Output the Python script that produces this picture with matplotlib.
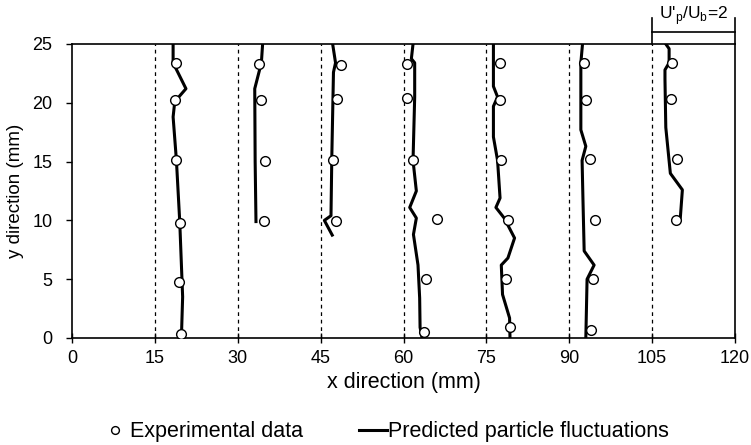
import matplotlib
matplotlib.use("Agg")
import matplotlib.pyplot as plt

plt.rcParams['font.family'] = ['Liberation Sans', 'DejaVu Sans']

# Measuring stations (x origin of each profile, mm)
stations = [15, 30, 45, 60, 75, 90, 105]
# Scale: 15 mm on the x axis corresponds to U'p/Ub = 2
mm_per_unit = 7.5

# Experimental data: y positions (mm) and U'p/Ub values
exp_y = {
    15: [23.4, 20.2, 15.1, 9.8, 4.8, 0.3],
    30: [23.3, 20.2, 15.05, 9.95],
    45: [23.2, 20.3, 15.1, 9.97],
    60: [23.3, 20.4, 15.1, 10.1, 5.05, 0.5],
    75: [23.4, 20.2, 15.1, 10.0, 5.05, 0.9],
    90: [23.4, 20.2, 15.2, 10.0, 5.0, 0.7],
    105: [23.4, 20.3, 15.2, 10.0],
}
exp_u = {
    15: [0.51, 0.49, 0.52, 0.60, 0.59, 0.64],
    30: [0.52, 0.57, 0.65, 0.64],
    45: [0.48, 0.39, 0.31, 0.36],
    60: [0.08, 0.08, 0.24, 0.81, 0.55, 0.49],
    75: [0.33, 0.33, 0.36, 0.52, 0.48, 0.56],
    90: [0.36, 0.41, 0.51, 0.63, 0.57, 0.52],
    105: [0.47, 0.45, 0.61, 0.57],
}

# Predicted particle fluctuations: y positions (mm) and U'p/Ub values
pred_y = {
    15: [25.0, 23.4, 21.2, 20.1, 18.8, 15.1, 9.9, 3.5, 0.0],
    30: [25.0, 23.4, 21.2, 15.0, 9.9],
    45: [25.0, 23.4, 22.6, 15.4, 10.4, 10.0, 8.75],
    60: [25.0, 23.75, 23.4, 20.5, 15.1, 12.5, 11.1, 10.2, 8.8, 6.2, 3.4, 0.9, 0.0],
    75: [25.0, 21.4, 20.5, 19.7, 17.1, 15.1, 11.9, 11.1, 10.2, 8.5, 6.8, 6.2, 3.7, 1.7, 0.0],
    90: [25.0, 23.4, 17.7, 16.3, 15.1, 11.9, 7.4, 6.2, 5.0, 0.0],
    105: [25.0, 24.6, 23.4, 22.8, 22.0, 17.9, 14.0, 12.6, 10.2, 9.8],
}
pred_u = {
    15: [0.44, 0.44, 0.75, 0.48, 0.44, 0.52, 0.60, 0.67, 0.64],
    30: [0.60, 0.57, 0.41, 0.42, 0.44],
    45: [0.29, 0.36, 0.31, 0.27, 0.25, 0.09, 0.28],
    60: [0.23, 0.19, 0.27, 0.27, 0.23, 0.31, 0.15, 0.31, 0.24, 0.35, 0.39, 0.40, 0.45],
    75: [0.17, 0.17, 0.27, 0.17, 0.17, 0.27, 0.33, 0.23, 0.43, 0.68, 0.52, 0.36, 0.39, 0.56, 0.57],
    90: [0.32, 0.28, 0.28, 0.40, 0.31, 0.33, 0.36, 0.60, 0.43, 0.40],
    105: [0.33, 0.41, 0.41, 0.31, 0.31, 0.33, 0.44, 0.73, 0.68, 0.57],
}

x_ticks = [0, 15, 30, 45, 60, 75, 90, 105, 120]
y_ticks = [0, 5, 10, 15, 20, 25]

fig = plt.figure(figsize=(7.51, 4.45), dpi=100)
ax = fig.add_axes([72 / 751, 1 - 338 / 445, (735 - 72) / 751, (338 - 44) / 445])

for s in stations:
    ax.axvline(s, color='black', linestyle=(0, (3, 3)), linewidth=0.9, zorder=1)
    px = [s + u * mm_per_unit for u in pred_u[s]]
    ax.plot(px, pred_y[s], color='black', linewidth=2.2, zorder=2,
            label='Predicted particle fluctuations' if s == stations[0] else None)
    ex = [s + u * mm_per_unit for u in exp_u[s]]
    ax.plot(ex, exp_y[s], linestyle='none', marker='o', markersize=7,
            markerfacecolor='white', markeredgecolor='black', markeredgewidth=1.0,
            zorder=3, label='Experimental data' if s == stations[0] else None)

ax.set_xlim(0, 120)
ax.set_ylim(0, 25)
ax.set_xticks(x_ticks)
ax.set_yticks(y_ticks)
ax.tick_params(axis='x', direction='inout', length=7, width=1, labelsize=13, pad=5)
ax.tick_params(axis='y', direction='out', length=4, width=1, labelsize=13, pad=10)
for sp in ax.spines.values():
    sp.set_linewidth(1.2)

ax.set_xlabel('x direction (mm)', fontsize=15.5, labelpad=4)
ax.set_ylabel('y direction (mm)', fontsize=13.5, labelpad=6)

# Scale bracket: 15 mm = U'p/Ub of 2
bar_start = 105
bar_end = bar_start + 2 * mm_per_unit
trans = ax.get_xaxis_transform()
ax.plot([bar_start, bar_end], [1.041, 1.041], color='black', linewidth=1.2,
        transform=trans, clip_on=False)
ax.plot([bar_start, bar_start], [1.0, 1.088], color='black', linewidth=1.2,
        transform=trans, clip_on=False)
ax.plot([bar_end, bar_end], [1.0, 1.088], color='black', linewidth=1.2,
        transform=trans, clip_on=False)
ax.text((bar_start + bar_end) / 2, 1.098, r"U'$_\mathregular{p}$/U$_\mathregular{b}$=2",
        transform=trans, ha='center', va='center', fontsize=12.5)

handles, labels = ax.get_legend_handles_labels()
order = [labels.index('Experimental data'), labels.index('Predicted particle fluctuations')]
fig.legend([handles[i] for i in order], [labels[i] for i in order],
           loc='center', bbox_to_anchor=(385 / 751, 1 - 432 / 445), ncol=2, frameon=False,
           fontsize=15.5, handlelength=1.3, handletextpad=0.05, columnspacing=2.6,
           markerscale=0.8, borderaxespad=0, borderpad=0)

fig.savefig('out.png', dpi=100)
